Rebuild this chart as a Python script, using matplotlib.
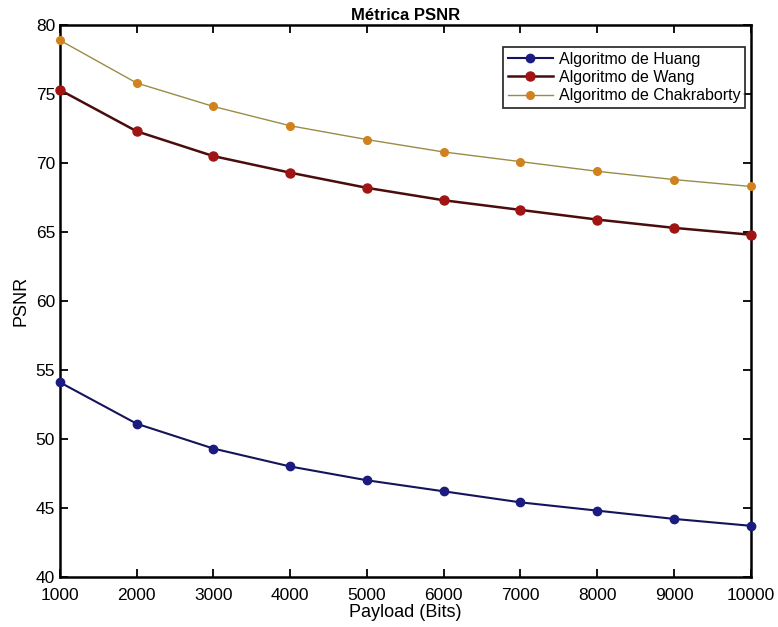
import matplotlib
matplotlib.use("Agg")
import matplotlib.pyplot as plt

payload = [1000, 2000, 3000, 4000, 5000, 6000, 7000, 8000, 9000, 10000]
huang = [54.1, 51.1, 49.3, 48.0, 47.0, 46.2, 45.4, 44.8, 44.2, 43.7]
wang = [75.3, 72.3, 70.5, 69.3, 68.2, 67.3, 66.6, 65.9, 65.3, 64.8]
chakraborty = [78.9, 75.8, 74.1, 72.7, 71.7, 70.8, 70.1, 69.4, 68.8, 68.3]
series_labels = ["Algoritmo de Huang", "Algoritmo de Wang", "Algoritmo de Chakraborty"]
xticks = list(range(1000, 10001, 1000))
yticks = list(range(40, 81, 5))

plt.rcParams['font.family'] = ['Liberation Sans', 'DejaVu Sans']

fig = plt.figure(figsize=(7.78, 6.27), dpi=100)
ax = fig.add_axes([0.077, 0.080, 0.888, 0.880])

ax.plot(payload, huang, color="#14145a", lw=1.5, marker='o', ms=6,
        mfc="#1c1c80", mec="#1c1c80", label=series_labels[0], clip_on=False, zorder=3)
ax.plot(payload, wang, color="#4a0c0c", lw=1.8, marker='o', ms=6.5,
        mfc="#a01414", mec="#a01414", label=series_labels[1], clip_on=False, zorder=3)
ax.plot(payload, chakraborty, color="#9a8c48", lw=1.0, marker='o', ms=5.5,
        mfc="#d0821e", mec="#d0821e", label=series_labels[2], clip_on=False, zorder=3)

ax.set_xlim(1000, 10000)
ax.set_ylim(40, 80)
ax.set_xticks(xticks)
ax.set_yticks(yticks)
ax.tick_params(direction='in', top=True, right=True, length=6, width=1.3, labelsize=12.5)
ax.tick_params(axis='x', pad=8)
for s in ax.spines.values():
    s.set_linewidth(1.8)

ax.set_xlabel("Payload (Bits)", fontsize=13, labelpad=1)
ax.set_ylabel("PSNR", fontsize=13, labelpad=4)
ax.set_title("Métrica PSNR", fontsize=12, fontweight='bold', pad=4)

leg = ax.legend(loc='upper right', bbox_to_anchor=(0.958, 0.925),
                bbox_transform=fig.transFigure, fontsize=11.5, frameon=True,
                fancybox=False, edgecolor='black', borderpad=0.3, labelspacing=0.2,
                handlelength=2.8, handletextpad=0.4, borderaxespad=0)
leg.get_frame().set_linewidth(1.3)

fig.savefig("out.png", dpi=100)
